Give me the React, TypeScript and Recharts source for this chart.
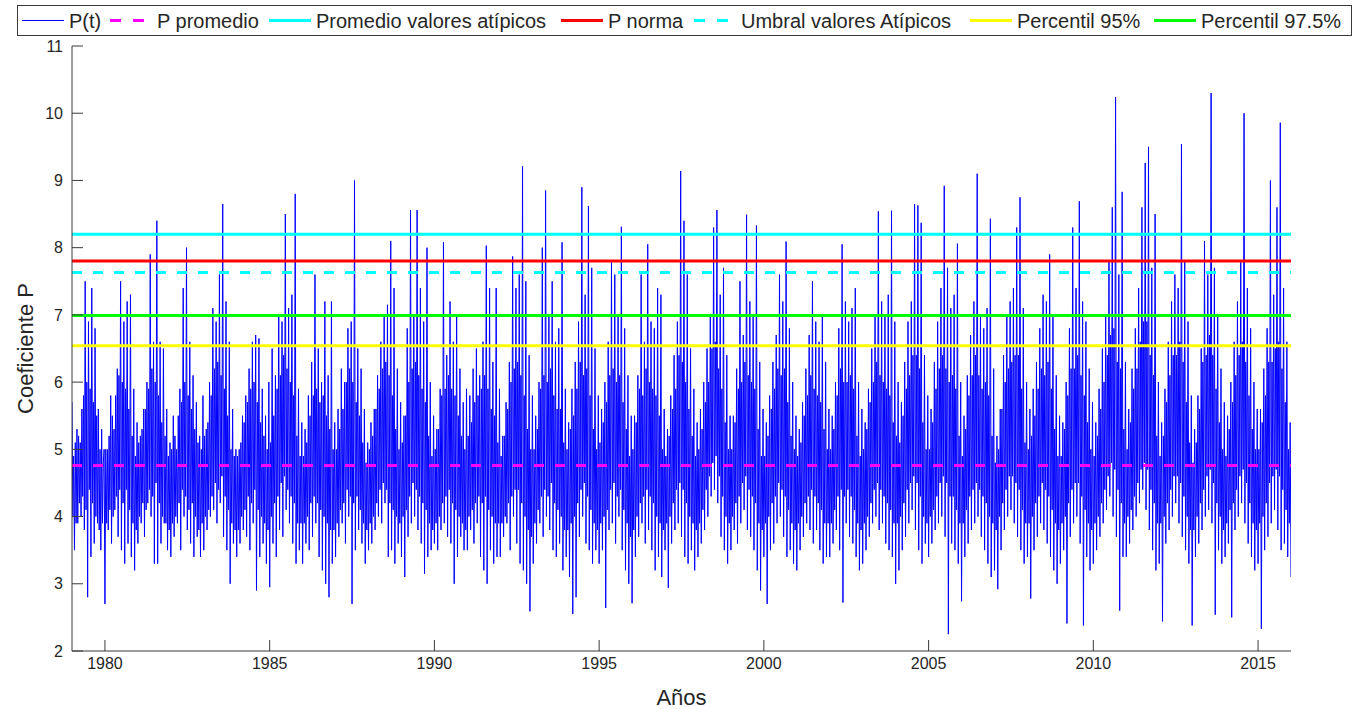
import React from 'react';
import { LineChart, Line, XAxis, YAxis, ReferenceLine } from 'recharts';

const FONT = '"Liberation Sans", Arial, Helvetica, sans-serif';
const TEXT = '#262626';
const AXIS = '#3a3a3a';

// P(t) extremes: 20 values per year (alternating troughs and peaks), from January on
const p1979 = [5.7, 3.5, 5.1, 3.9, 5.2, 4.0, 5.6, 3.8, 7.5, 2.8, 6.9, 3.4, 7.4, 3.6, 6.8, 3.9, 5.6, 3.5, 5.3, 5.0];
const p1980 = [2.7, 5.0, 3.8, 5.8, 3.6, 5.3, 4.1, 6.2, 3.7, 7.5, 3.5, 6.9, 3.3, 7.2, 3.6, 7.3, 3.4, 5.9, 3.2, 5.4];
const p1981 = [3.6, 5.2, 3.9, 5.6, 3.7, 6.0, 4.2, 7.9, 4.0, 6.6, 3.3, 8.4, 3.3, 6.6, 3.6, 6.5, 3.9, 5.6, 3.5, 5.1];
const p1982 = [3.4, 5.5, 3.7, 5.0, 3.9, 5.9, 3.5, 7.4, 4.0, 8.0, 3.8, 6.6, 3.6, 6.1, 3.4, 5.7, 3.7, 5.2, 3.4, 5.8];
const p1983 = [3.5, 5.3, 3.8, 6.0, 4.0, 7.1, 4.1, 6.9, 3.9, 7.6, 4.2, 8.65, 3.7, 7.2, 3.5, 6.6, 3.0, 5.6, 3.6, 5.0];
const p1984 = [3.4, 5.0, 3.6, 5.5, 3.8, 5.8, 3.7, 6.2, 3.5, 6.6, 3.9, 6.7, 2.9, 6.65, 3.4, 5.9, 3.6, 5.5, 3.3, 6.0];
const p1985 = [2.95, 6.5, 3.6, 6.1, 3.4, 7.0, 3.8, 6.9, 3.7, 8.5, 4.1, 7.1, 3.9, 7.3, 3.6, 8.8, 3.3, 5.9, 3.5, 5.4];
const p1986 = [3.3, 5.3, 3.6, 5.8, 3.5, 6.3, 3.7, 7.6, 3.9, 6.5, 3.4, 6.0, 3.2, 7.2, 3.0, 6.1, 2.8, 7.2, 3.3, 5.4];
const p1987 = [3.4, 5.6, 3.7, 6.2, 3.9, 6.0, 3.6, 6.8, 4.0, 6.9, 2.7, 9.0, 3.5, 6.5, 3.8, 6.2, 3.6, 5.6, 3.3, 5.1];
const p1988 = [3.5, 5.4, 3.6, 5.6, 3.8, 6.1, 4.0, 6.6, 3.9, 7.0, 4.2, 7.15, 3.4, 8.1, 3.5, 7.4, 3.3, 6.2, 3.6, 5.7];
const p1989 = [3.4, 5.5, 3.1, 6.8, 3.7, 8.56, 3.9, 7.0, 4.0, 8.56, 3.8, 7.4, 3.6, 6.9, 3.15, 8.0, 3.4, 6.0, 3.5, 5.5];
const p1990 = [3.6, 5.3, 3.5, 5.9, 3.8, 8.08, 3.9, 6.4, 3.7, 7.2, 3.6, 6.6, 3.0, 7.0, 3.4, 6.2, 3.7, 5.7, 3.5, 5.9];
const p1991 = [3.5, 5.8, 3.8, 6.2, 3.6, 6.5, 3.9, 6.1, 3.4, 6.6, 3.2, 8.03, 3.0, 7.4, 3.5, 6.3, 3.3, 7.4, 3.4, 5.9];
const p1992 = [3.4, 5.2, 3.7, 5.7, 3.9, 6.3, 3.5, 7.87, 4.0, 7.4, 3.6, 7.6, 3.3, 9.21, 3.2, 7.5, 3.0, 6.4, 2.59, 5.8];
const p1993 = [3.3, 5.5, 3.6, 6.0, 3.9, 8.0, 3.7, 8.85, 4.0, 7.0, 3.8, 7.5, 3.5, 6.6, 3.4, 6.8, 3.6, 8.08, 3.2, 5.9];
const p1994 = [3.4, 5.4, 3.1, 5.9, 2.55, 6.3, 2.8, 6.9, 3.7, 8.9, 4.0, 7.3, 3.6, 8.62, 3.5, 7.7, 3.3, 6.5, 3.5, 5.8];
const p1995 = [3.3, 5.6, 3.5, 6.0, 2.64, 6.6, 3.8, 7.8, 3.9, 7.6, 3.6, 7.0, 4.0, 8.31, 3.5, 6.8, 3.2, 6.1, 3.0, 5.5];
const p1996 = [2.71, 5.5, 3.4, 6.1, 3.7, 7.6, 3.9, 6.6, 3.6, 8.05, 3.8, 6.9, 3.5, 6.8, 3.2, 7.4, 3.4, 7.3, 3.1, 5.6];
const p1997 = [3.5, 5.3, 2.94, 5.8, 3.6, 6.4, 3.8, 6.9, 3.9, 9.14, 3.7, 8.4, 3.4, 7.6, 3.3, 6.5, 3.5, 5.9, 3.2, 5.4];
const p1998 = [3.4, 5.6, 3.6, 6.0, 3.8, 6.5, 4.0, 7.0, 4.3, 8.3, 4.4, 8.56, 4.2, 7.3, 3.7, 7.7, 3.5, 6.4, 3.3, 5.5];
const p1999 = [3.5, 5.5, 3.8, 6.2, 3.6, 7.5, 3.9, 6.7, 4.1, 8.49, 3.8, 7.2, 3.7, 7.0, 3.5, 8.33, 3.2, 6.3, 2.9, 5.6];
const p2000 = [3.4, 5.4, 2.7, 5.8, 3.5, 6.3, 3.6, 6.7, 3.9, 7.6, 4.0, 7.2, 3.7, 8.09, 3.4, 6.8, 3.5, 6.0, 3.3, 5.5];
const p2001 = [3.2, 5.3, 3.5, 5.7, 3.7, 6.2, 3.9, 6.7, 3.8, 7.5, 3.6, 6.9, 3.8, 6.6, 3.5, 7.0, 3.3, 6.3, 3.4, 5.6];
const p2002 = [3.4, 5.5, 3.6, 6.0, 3.8, 6.8, 3.5, 8.05, 2.72, 7.2, 3.9, 6.9, 3.7, 7.1, 3.6, 7.4, 3.4, 6.0, 3.2, 5.6];
const p2003 = [3.3, 5.4, 3.5, 5.9, 3.7, 6.5, 3.9, 7.0, 4.0, 8.54, 3.8, 7.2, 3.9, 7.0, 3.6, 7.3, 3.5, 8.55, 3.4, 6.9];
const p2004 = [3.0, 6.0, 3.2, 5.7, 3.5, 6.3, 3.7, 6.9, 3.9, 7.2, 4.1, 8.65, 3.8, 8.63, 3.5, 8.37, 3.3, 6.4, 3.6, 5.8];
const p2005 = [3.4, 5.6, 3.6, 6.3, 3.8, 6.9, 3.9, 7.4, 4.0, 8.92, 3.7, 7.7, 2.25, 7.1, 3.6, 7.3, 3.5, 8.06, 3.3, 6.0];
const p2006 = [2.74, 5.5, 3.4, 6.1, 3.6, 6.7, 3.8, 7.2, 3.9, 9.1, 4.0, 7.0, 3.7, 6.8, 3.5, 7.1, 3.3, 8.43, 3.1, 6.2];
const p2007 = [3.2, 5.2, 2.92, 5.6, 3.5, 6.4, 3.8, 7.0, 4.0, 7.2, 4.1, 7.4, 3.9, 8.3, 3.7, 8.75, 3.5, 7.1, 3.3, 6.0];
const p2008 = [3.4, 5.6, 2.78, 5.9, 3.5, 6.3, 3.7, 6.8, 3.9, 7.3, 3.8, 7.2, 3.6, 7.9, 3.4, 7.0, 3.2, 6.1, 3.0, 5.5];
const p2009 = [3.3, 5.4, 3.5, 6.0, 2.41, 6.8, 3.7, 8.3, 3.9, 7.4, 4.0, 8.69, 3.6, 7.2, 2.38, 6.9, 3.4, 6.2, 3.2, 5.7];
const p2010 = [3.3, 5.4, 3.5, 5.9, 3.7, 6.5, 3.9, 7.0, 4.1, 7.8, 4.3, 8.6, 4.0, 10.24, 3.7, 7.6, 2.6, 8.83, 3.4, 6.3];
const p2011 = [3.4, 5.6, 3.6, 6.2, 3.8, 6.8, 4.0, 7.4, 4.2, 8.6, 4.4, 9.26, 4.1, 9.5, 3.8, 7.7, 3.5, 8.5, 3.2, 6.0];
const p2012 = [3.3, 5.4, 2.44, 5.9, 3.6, 6.6, 3.8, 7.2, 4.0, 7.6, 4.2, 7.4, 3.9, 9.54, 3.7, 7.8, 3.5, 6.9, 3.3, 5.8];
const p2013 = [2.38, 5.3, 3.4, 5.8, 3.6, 6.5, 3.8, 8.1, 4.0, 7.6, 4.1, 10.3, 3.9, 7.7, 2.54, 7.0, 3.5, 6.2, 3.3, 5.7];
const p2014 = [3.4, 5.5, 3.6, 6.0, 2.5, 6.6, 3.8, 7.2, 4.0, 7.8, 4.2, 10.0, 3.9, 7.4, 3.6, 6.8, 3.4, 6.0, 3.2, 5.6];
const p2015 = [3.3, 5.6, 2.33, 6.2, 3.5, 6.8, 3.7, 9.0, 3.9, 7.3, 4.1, 8.6, 3.8, 9.86, 3.5, 7.4, 3.6, 6.6, 3.4, 5.4];
const pEnd = 3.1; // value on 1 January 2016

// P(t) core swings: 20 values per year, sampled between the extremes above
const c1979 = [4.0, 4.9, 3.9, 5.3, 4.2, 5.1, 4.3, 5.8, 4.1, 6.0, 4.4, 5.9, 4.2, 5.7, 4.0, 5.5, 3.8, 5.0, 3.9, 4.8];
const c1980 = [5.0, 3.9, 5.2, 4.1, 5.5, 4.0, 5.8, 4.3, 6.1, 4.4, 6.0, 4.2, 5.9, 4.4, 5.6, 4.1, 5.2, 3.9, 4.9, 3.8];
const c1981 = [5.1, 4.0, 5.3, 4.2, 5.6, 4.1, 5.9, 4.4, 6.2, 4.3, 6.0, 4.5, 5.8, 4.2, 5.4, 4.0, 5.2, 3.9, 4.9, 3.8];
const c1982 = [5.0, 3.9, 5.2, 4.0, 5.5, 4.2, 5.7, 4.4, 6.0, 4.3, 5.8, 4.1, 5.6, 4.2, 5.3, 4.0, 5.1, 3.8, 5.0, 3.9];
const c1983 = [5.2, 4.0, 5.4, 4.1, 5.8, 4.3, 6.2, 4.5, 6.3, 4.4, 6.1, 4.6, 5.9, 4.3, 5.5, 4.1, 5.0, 3.9, 4.9, 3.8];
const c1984 = [4.9, 3.8, 5.1, 4.0, 5.4, 4.1, 5.7, 4.3, 5.9, 4.2, 6.0, 4.4, 5.7, 4.1, 5.4, 4.0, 5.2, 3.9, 5.0, 3.8];
const c1985 = [5.1, 4.0, 5.5, 4.2, 5.9, 4.3, 6.1, 4.5, 6.4, 4.6, 6.2, 4.4, 6.0, 4.3, 5.8, 4.2, 5.2, 3.9, 4.9, 3.9];
const c1986 = [4.9, 3.9, 5.1, 4.0, 5.5, 4.2, 5.8, 4.3, 5.9, 4.2, 5.7, 4.1, 5.8, 4.0, 5.5, 3.9, 5.3, 3.8, 5.0, 3.8];
const c1987 = [5.0, 3.9, 5.3, 4.1, 5.6, 4.2, 6.0, 4.4, 6.2, 4.3, 6.0, 4.2, 5.7, 4.3, 5.5, 4.1, 5.1, 3.9, 4.8, 3.8];
const c1988 = [5.0, 3.9, 5.2, 4.0, 5.6, 4.2, 5.9, 4.4, 6.2, 4.5, 6.3, 4.4, 6.1, 4.2, 5.8, 4.1, 5.3, 4.0, 5.0, 3.9];
const c1989 = [5.1, 4.0, 5.5, 4.1, 6.0, 4.3, 6.2, 4.5, 6.3, 4.4, 6.1, 4.3, 5.9, 4.2, 5.7, 4.1, 5.2, 3.9, 4.9, 3.8];
const c1990 = [5.0, 3.9, 5.3, 4.0, 5.8, 4.2, 5.9, 4.3, 6.1, 4.4, 5.9, 4.2, 5.8, 4.1, 5.5, 4.0, 5.2, 3.9, 5.0, 3.8];
const c1991 = [5.2, 4.0, 5.4, 4.1, 5.7, 4.2, 5.8, 4.3, 5.9, 4.2, 6.1, 4.3, 5.9, 4.1, 5.6, 4.0, 5.5, 3.9, 5.1, 3.9];
const c1992 = [4.9, 3.9, 5.2, 4.0, 5.6, 4.2, 6.0, 4.3, 6.2, 4.4, 6.3, 4.4, 6.1, 4.2, 5.8, 4.0, 5.3, 3.8, 5.0, 3.7];
const c1993 = [5.0, 3.9, 5.3, 4.1, 5.9, 4.3, 6.1, 4.4, 6.0, 4.3, 6.2, 4.5, 5.8, 4.2, 5.6, 4.1, 5.6, 4.0, 5.1, 3.8];
const c1994 = [5.0, 3.8, 5.3, 3.9, 5.5, 4.0, 5.9, 4.2, 6.3, 4.4, 6.1, 4.5, 6.2, 4.3, 5.8, 4.1, 5.3, 3.9, 5.0, 3.8];
const c1995 = [5.1, 3.9, 5.4, 4.0, 5.7, 4.1, 6.1, 4.4, 6.2, 4.5, 6.0, 4.3, 6.1, 4.4, 5.7, 4.1, 5.3, 3.9, 4.9, 3.7];
const c1996 = [5.0, 3.8, 5.4, 4.0, 5.9, 4.2, 5.8, 4.3, 6.2, 4.4, 6.0, 4.3, 5.9, 4.2, 5.8, 4.0, 5.5, 3.9, 5.0, 3.8];
const c1997 = [4.9, 3.9, 5.2, 4.0, 5.6, 4.2, 5.9, 4.4, 6.4, 4.5, 6.3, 4.4, 6.0, 4.2, 5.6, 4.0, 5.2, 3.9, 4.9, 3.8];
const c1998 = [5.0, 3.9, 5.3, 4.1, 5.7, 4.4, 6.0, 4.6, 6.5, 4.8, 6.6, 4.9, 6.2, 4.6, 5.9, 4.3, 5.4, 4.0, 5.0, 3.9];
const c1999 = [5.0, 4.0, 5.4, 4.2, 5.9, 4.3, 6.0, 4.5, 6.3, 4.6, 6.1, 4.4, 6.0, 4.3, 5.9, 4.2, 5.3, 3.9, 4.9, 3.8];
const c2000 = [4.9, 3.9, 5.2, 4.0, 5.6, 4.2, 5.9, 4.3, 6.2, 4.5, 6.1, 4.4, 6.2, 4.3, 5.7, 4.1, 5.2, 3.9, 5.0, 3.8];
const c2001 = [4.9, 3.9, 5.1, 4.0, 5.5, 4.2, 5.8, 4.3, 6.1, 4.4, 5.9, 4.3, 5.8, 4.2, 5.7, 4.1, 5.3, 3.9, 5.0, 3.9];
const c2002 = [5.0, 3.9, 5.3, 4.1, 5.8, 4.3, 6.2, 4.4, 6.0, 4.3, 6.0, 4.4, 6.1, 4.3, 5.9, 4.1, 5.2, 3.9, 4.9, 3.8];
const c2003 = [5.0, 3.9, 5.3, 4.0, 5.7, 4.2, 6.0, 4.4, 6.3, 4.5, 6.1, 4.4, 6.0, 4.3, 5.9, 4.2, 5.8, 4.1, 5.4, 3.9];
const c2004 = [5.2, 3.9, 5.1, 4.0, 5.5, 4.2, 5.9, 4.4, 6.1, 4.5, 6.4, 4.6, 6.4, 4.5, 6.2, 4.3, 5.4, 4.0, 5.0, 3.9];
const c2005 = [5.0, 4.0, 5.4, 4.1, 5.9, 4.3, 6.2, 4.5, 6.4, 4.6, 6.2, 4.5, 6.0, 4.3, 6.1, 4.3, 5.9, 4.1, 5.2, 3.9];
const c2006 = [4.9, 3.9, 5.3, 4.1, 5.8, 4.3, 6.1, 4.4, 6.4, 4.5, 6.1, 4.4, 5.9, 4.3, 6.0, 4.2, 5.8, 4.0, 5.2, 3.9];
const c2007 = [4.8, 3.8, 5.0, 4.0, 5.6, 4.2, 6.0, 4.4, 6.2, 4.6, 6.3, 4.6, 6.4, 4.5, 6.4, 4.4, 5.9, 4.1, 5.1, 3.9];
const c2008 = [5.0, 3.9, 5.2, 4.0, 5.5, 4.2, 5.9, 4.3, 6.2, 4.5, 6.1, 4.4, 6.3, 4.3, 5.9, 4.1, 5.3, 3.9, 4.9, 3.8];
const c2009 = [4.9, 3.9, 5.3, 4.0, 5.8, 4.2, 6.2, 4.4, 6.2, 4.5, 6.4, 4.5, 6.1, 4.3, 5.8, 4.1, 5.4, 3.9, 5.0, 3.8];
const c2010 = [4.9, 3.9, 5.2, 4.0, 5.6, 4.2, 6.0, 4.4, 6.4, 4.6, 6.7, 4.8, 6.8, 4.7, 6.3, 4.4, 6.2, 4.2, 5.3, 3.9];
const c2011 = [5.0, 4.0, 5.4, 4.1, 5.9, 4.3, 6.2, 4.5, 6.6, 4.7, 6.9, 4.8, 6.9, 4.7, 6.4, 4.4, 6.1, 4.2, 5.2, 3.9];
const c2012 = [4.9, 3.9, 5.2, 4.0, 5.7, 4.2, 6.1, 4.4, 6.4, 4.6, 6.4, 4.6, 6.6, 4.5, 6.3, 4.3, 5.7, 4.0, 5.1, 3.8];
const c2013 = [4.8, 3.8, 5.1, 4.0, 5.6, 4.2, 6.3, 4.4, 6.4, 4.6, 6.7, 4.7, 6.4, 4.5, 5.9, 4.2, 5.4, 4.0, 5.0, 3.8];
const c2014 = [4.9, 3.9, 5.3, 4.1, 5.7, 4.2, 6.1, 4.4, 6.4, 4.6, 6.6, 4.7, 6.3, 4.5, 5.8, 4.2, 5.3, 3.9, 5.0, 3.8];
const c2015 = [5.0, 3.9, 5.4, 4.0, 5.8, 4.2, 6.3, 4.5, 6.3, 4.6, 6.5, 4.7, 6.6, 4.6, 6.2, 4.4, 5.7, 4.1, 5.0, 3.9];

const seriesByYear: [number, number[], number[]][] = [
  [1979, p1979, c1979], [1980, p1980, c1980], [1981, p1981, c1981], [1982, p1982, c1982],
  [1983, p1983, c1983], [1984, p1984, c1984], [1985, p1985, c1985], [1986, p1986, c1986],
  [1987, p1987, c1987], [1988, p1988, c1988], [1989, p1989, c1989], [1990, p1990, c1990],
  [1991, p1991, c1991], [1992, p1992, c1992], [1993, p1993, c1993], [1994, p1994, c1994],
  [1995, p1995, c1995], [1996, p1996, c1996], [1997, p1997, c1997], [1998, p1998, c1998],
  [1999, p1999, c1999], [2000, p2000, c2000], [2001, p2001, c2001], [2002, p2002, c2002],
  [2003, p2003, c2003], [2004, p2004, c2004], [2005, p2005, c2005], [2006, p2006, c2006],
  [2007, p2007, c2007], [2008, p2008, c2008], [2009, p2009, c2009], [2010, p2010, c2010],
  [2011, p2011, c2011], [2012, p2012, c2012], [2013, p2013, c2013], [2014, p2014, c2014],
  [2015, p2015, c2015],
];

// Horizontal reference levels
const P_PROMEDIO = 4.76;
const PROMEDIO_ATIPICOS = 8.2;
const P_NORMA = 7.8;
const UMBRAL_ATIPICOS = 7.63;
const PERCENTIL_95 = 6.54;
const PERCENTIL_975 = 6.99;

const xTicks = [1980, 1985, 1990, 1995, 2000, 2005, 2010, 2015];
const yTicks = [2, 3, 4, 5, 6, 7, 8, 9, 10, 11];

const legendItems = [
  { label: 'P(t)', color: '#0000ff', width: 1.2, dash: undefined, x: 22 },
  { label: 'P promedio', color: '#ff00ff', width: 3, dash: '11 12', x: 110 },
  { label: 'Promedio valores atípicos', color: '#00ffff', width: 3, dash: undefined, x: 269 },
  { label: 'P norma', color: '#ff0000', width: 3, dash: undefined, x: 561 },
  { label: 'Umbral valores Atípicos', color: '#00ffff', width: 3, dash: '11 12', x: 694 },
  { label: 'Percentil 95%', color: '#ffff00', width: 3, dash: undefined, x: 970 },
  { label: 'Percentil 97.5%', color: '#00ff00', width: 3, dash: undefined, x: 1154 },
];

// Each year: 40 samples; every extreme pair gets its two core samples in between
const STEPS_PER_YEAR = 40;
const data: { t: number; p: number }[] = [];
seriesByYear.forEach(([year, ext, core]) => {
  for (let k = 0; k < ext.length / 2; k++) {
    const base = year + (4 * k) / STEPS_PER_YEAR;
    data.push({ t: base, p: ext[2 * k] });
    data.push({ t: base + 1 / STEPS_PER_YEAR, p: core[2 * k] });
    data.push({ t: base + 2 / STEPS_PER_YEAR, p: core[2 * k + 1] });
    data.push({ t: base + 3 / STEPS_PER_YEAR, p: ext[2 * k + 1] });
  }
});
data.push({ t: 2016, p: pEnd });

const tickStyle = { fontFamily: FONT, fontSize: 16, fill: TEXT };

export default function App() {
  return (
    <div style={{ position: 'absolute', left: 0, top: 0, width: 1357, height: 709, background: '#fff' }}>
      <LineChart
        width={1357}
        height={709}
        data={data}
        margin={{ top: 46, right: 66, bottom: 0, left: 12 }}
      >
        <XAxis
          dataKey="t"
          type="number"
          domain={[1979, 2016]}
          ticks={xTicks}
          interval={0}
          height={58}
          tickSize={-11}
          tickMargin={18}
          allowDataOverflow
          stroke={AXIS}
          tick={tickStyle}
        />
        <XAxis
          xAxisId="top"
          dataKey="t"
          orientation="top"
          type="number"
          domain={[1979, 2016]}
          ticks={xTicks}
          interval={0}
          height={0}
          tickSize={-11}
          tick={false}
          stroke={AXIS}
        />
        <YAxis
          type="number"
          domain={[2, 11]}
          ticks={yTicks}
          interval={0}
          width={60}
          tickSize={-11}
          tickMargin={20}
          allowDataOverflow
          stroke={AXIS}
          tick={tickStyle}
        />
        <YAxis
          yAxisId="right"
          orientation="right"
          type="number"
          domain={[2, 11]}
          ticks={yTicks}
          interval={0}
          width={0}
          tickSize={-11}
          tick={false}
          stroke={AXIS}
        />
        <Line
          type="linear"
          dataKey="p"
          stroke="#0000ff"
          strokeWidth={1}
          dot={false}
          activeDot={false}
          isAnimationActive={false}
        />
        <ReferenceLine y={P_PROMEDIO} stroke="#ff00ff" strokeWidth={3} strokeDasharray="10 11" />
        <ReferenceLine y={PROMEDIO_ATIPICOS} stroke="#00ffff" strokeWidth={3} />
        <ReferenceLine y={P_NORMA} stroke="#ff0000" strokeWidth={3} />
        <ReferenceLine y={UMBRAL_ATIPICOS} stroke="#00ffff" strokeWidth={3} strokeDasharray="10 11" />
        <ReferenceLine y={PERCENTIL_95} stroke="#ffff00" strokeWidth={3} />
        <ReferenceLine y={PERCENTIL_975} stroke="#00ff00" strokeWidth={3} />
      </LineChart>

      <svg
        width={1357}
        height={709}
        style={{ position: 'absolute', left: 0, top: 0, pointerEvents: 'none' }}
      >
        <rect x={17.5} y={5.5} width={1334} height={30} fill="#fff" stroke={AXIS} strokeWidth={1} />
        {legendItems.map((item) => (
          <g key={item.label}>
            <line
              x1={item.x}
              x2={item.x + 42}
              y1={20.5}
              y2={20.5}
              stroke={item.color}
              strokeWidth={item.width}
              strokeDasharray={item.dash}
            />
            <text x={item.x + 47} y={28} fontFamily={FONT} fontSize={20} fill={TEXT}>
              {item.label}
            </text>
          </g>
        ))}
        <text x={681.5} y={705} textAnchor="middle" fontFamily={FONT} fontSize={22} fill={TEXT}>
          Años
        </text>
        <text
          transform="translate(33, 348.5) rotate(-90)"
          textAnchor="middle"
          fontFamily={FONT}
          fontSize={22}
          fill={TEXT}
        >
          Coeficiente P
        </text>
      </svg>
    </div>
  );
}
